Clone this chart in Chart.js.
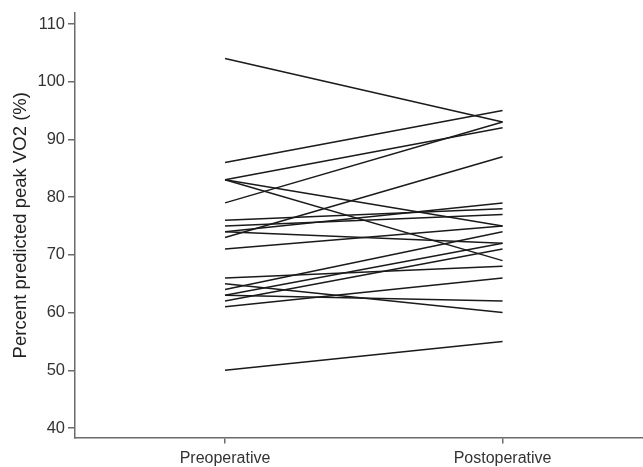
<!DOCTYPE html>
<html>
<head>
<meta charset="utf-8">
<script src="https://cdn.jsdelivr.net/npm/chart.js@4"></script>
<style>
html,body{margin:0;padding:0;background:#fff;}
#wrap{width:643px;height:467px;position:relative;}
</style>
</head>
<body>
<div id="wrap"><canvas id="c" width="643" height="467"></canvas></div>
<script>
const categories = ["Preoperative", "Postoperative"];
const preValues  = [104, 86, 83, 83, 83, 79, 76, 75, 74, 74, 73, 71, 66, 65, 64, 63, 63, 62, 61, 50];
const postValues = [93, 95, 92, 69, 75, 93, 78, 77, 79, 72, 87, 75, 68, 60, 74, 72, 62, 71, 66, 55];
const yTicks = [40, 50, 60, 70, 80, 90, 100, 110];
const yTitle = "Percent predicted peak VO2 (%)";

const datasets = preValues.map((p, i) => ({
  data: [{x: 0, y: p}, {x: 1, y: postValues[i]}],
  borderColor: '#1a1a1a',
  borderWidth: 1.5,
  pointRadius: 0,
  fill: false,
  tension: 0
}));

const axisColor = '#6b6b6b';
const family = "'Liberation Sans', Arial, sans-serif";

new Chart(document.getElementById('c'), {
  type: 'line',
  data: {datasets},
  options: {
    responsive: false,
    animation: false,
    plugins: {legend: {display: false}, tooltip: {enabled: false}},
    layout: {padding: {top: 13, right: 0, left: 0, bottom: 0}},
    scales: {
      x: {
        type: 'linear',
        min: -0.5405,
        max: 1.506,
        afterBuildTicks: s => { s.ticks = [{value: 0}, {value: 1}]; },
        afterFit: s => { s.height = 29.5; },
        ticks: {
          callback: v => categories[v],
          color: '#333',
          font: {family, size: 16},
          padding: 5,
          maxRotation: 0,
          autoSkip: false
        },
        grid: {drawOnChartArea: false, drawTicks: true, tickLength: 6, color: axisColor, lineWidth: 1.5},
        border: {color: axisColor, width: 1.5}
      },
      y: {
        min: 38.35,
        max: 111.9,
        afterBuildTicks: s => { s.ticks = yTicks.map(v => ({value: v})); },
        afterFit: s => { s.width = 75; },
        ticks: {color: '#333', font: {family, size: 16.5}, padding: 3},
        grid: {drawOnChartArea: false, drawTicks: true, tickLength: 7, color: axisColor, lineWidth: 1.5},
        border: {color: axisColor, width: 1.5},
        title: {display: true, text: yTitle, color: '#222', font: {family, size: 18.5}, padding: {top: 10, bottom: 0}}
      }
    }
  }
});
</script>
</body>
</html>
